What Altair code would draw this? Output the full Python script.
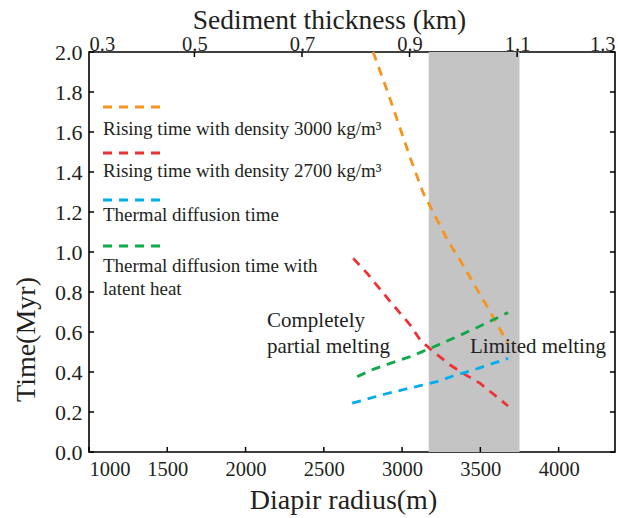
import altair as alt
import pandas as pd

# ---- axis ticks -------------------------------------------------------
radius_ticks = [1000, 1500, 2000, 2500, 3000, 3500, 4000]          # m
time_ticks = [0.0, 0.2, 0.4, 0.6, 0.8, 1.0, 1.2, 1.4, 1.6, 1.8, 2.0]  # Myr
thickness_labels = [0.304, 0.5, 0.7, 0.9, 1.1, 1.282]              # km (top axis)
thickness_marks = [0.5, 0.7, 0.9, 1.1]

radius_domain = [1000, 4360]
thickness_domain = [0.304, 1.282]
time_domain = [0, 2]

# ---- shaded melting window (diapir radius, m) -------------------------
band_start = [3170]
band_end = [3750]

# ---- curves -------------------------------------------------------------
series = [
    "Rising time with density 3000 kg/m³",
    "Rising time with density 2700 kg/m³",
    "Thermal diffusion time",
    "Thermal diffusion time with latent heat",
]
colors = ["#f7941d", "#ec3237", "#00aeef", "#10a84a"]

rise3000_r = [2815, 2910, 3050, 3135, 3290, 3370, 3455, 3545, 3675]
rise3000_t = [2.0, 1.795, 1.475, 1.295, 1.06, 0.96, 0.845, 0.725, 0.545]

rise2700_r = [2688, 2777, 2924, 3052, 3116, 3199, 3307, 3390, 3499, 3677]
rise2700_t = [0.968, 0.893, 0.752, 0.635, 0.56, 0.502, 0.435, 0.393, 0.343, 0.23]

diff_r = [2681, 2892, 3116, 3224, 3326, 3454, 3677]
diff_t = [0.244, 0.29, 0.332, 0.352, 0.38, 0.41, 0.468]

latent_r = [2713, 2815, 2924, 3052, 3179, 3352, 3480, 3677]
latent_t = [0.377, 0.413, 0.443, 0.477, 0.518, 0.577, 0.623, 0.697]

W, H = 526, 400
FONT = "Liberation Serif"
INK = "#231f20"
DASH = [9, 7]
LW = 2.8

rows = []
for name, rs, ts in zip(series,
                        [rise3000_r, rise2700_r, diff_r, latent_r],
                        [rise3000_t, rise2700_t, diff_t, latent_t]):
    for r, t in zip(rs, ts):
        rows.append({"series": name, "radius": r, "time": t})
curves = pd.DataFrame(rows)

x_scale = alt.Scale(domain=radius_domain, nice=False, zero=False)
y_scale = alt.Scale(domain=time_domain, nice=False, zero=False)

x_axis = alt.Axis(
    values=radius_ticks, format="d", title="Diapir radius(m)",
    labelFlush=True, labelFontSize=20.5, labelBaseline="alphabetic",
    labelPadding=23.5, titleFontSize=28, titleX=254, titleY=56,
    titleBaseline="alphabetic", titleAlign="center",
)
y_axis = alt.Axis(
    values=time_ticks, format=".1f", title="Time(Myr)",
    labelFlush=False, labelFontSize=22, labelPadding=7,
    titleFontSize=28, titleX=-55, titleY=287, titleAngle=270,
    titleBaseline="alphabetic", titleAlign="center",
)
top_axis = alt.Axis(
    orient="top", values=thickness_labels, format=".1f",
    title="Sediment thickness (km)", labelFlush=True, labelFontSize=20.5,
    labelBaseline="alphabetic", labelPadding=2, titleFontSize=27.5,
    titleX=240, titleY=-24, titleBaseline="alphabetic", titleAlign="center",
)


def X(field):
    return alt.X(field, type="quantitative", scale=x_scale, axis=x_axis)


def Y(field):
    return alt.Y(field, type="quantitative", scale=y_scale, axis=y_axis)


band = alt.Chart(pd.DataFrame({"start": band_start, "end": band_end})).mark_rect(
    color="#c4c4c4"
).encode(x=X("start"), x2="end", y=alt.value(0), y2=alt.value(H))

lines = alt.Chart(curves).mark_line(
    strokeDash=DASH, strokeWidth=LW, strokeCap="butt"
).encode(
    x=X("radius"),
    y=Y("time"),
    color=alt.Color("series:N", scale=alt.Scale(domain=series, range=colors), legend=None),
    detail="series:N",
)

# inward tick marks on the frame
ytick_df = pd.DataFrame({"v": time_ticks})
xtick_df = pd.DataFrame({"v": radius_ticks})
tick_style = dict(color="black", strokeWidth=1.5)
left_ticks = alt.Chart(ytick_df).mark_rule(**tick_style).encode(
    y=Y("v"), x=alt.value(0), x2=alt.value(5))
right_ticks = alt.Chart(ytick_df).mark_rule(**tick_style).encode(
    y=Y("v"), x=alt.value(W - 5), x2=alt.value(W))
bottom_ticks = alt.Chart(xtick_df).mark_rule(**tick_style).encode(
    x=X("v"), y=alt.value(H - 5), y2=alt.value(H))

one = pd.DataFrame({"a": [0]})


def label(text, x, y, size):
    return alt.Chart(one).mark_text(
        text=text, align="left", baseline="alphabetic", font=FONT,
        fontSize=size, color=INK,
    ).encode(x=alt.value(x), y=alt.value(y))


def key_line(color, y):
    return alt.Chart(one).mark_rule(
        color=color, strokeDash=DASH, strokeWidth=LW, strokeCap="butt"
    ).encode(x=alt.value(14), x2=alt.value(76), y=alt.value(y))


key = [
    key_line(colors[0], 55), label(series[0], 14, 83, 19),
    key_line(colors[1], 101), label(series[1], 14, 125, 19),
    key_line(colors[2], 148), label(series[2], 14, 169, 19),
    key_line(colors[3], 194),
    label("Thermal diffusion time with", 14, 220, 19),
    label("latent heat", 14, 243, 19),
]

notes = [
    label("Completely", 178, 275, 21),
    label("partial melting", 178, 300.5, 21),
    label("Limited melting", 381, 300.5, 21),
]

main = alt.layer(band, lines, left_ticks, right_ticks, bottom_ticks, *key, *notes)

top = alt.Chart(pd.DataFrame({"v": thickness_marks})).mark_rule(**tick_style).encode(
    x=alt.X("v:Q", scale=alt.Scale(domain=thickness_domain, nice=False, zero=False),
            axis=top_axis),
    y=alt.value(0), y2=alt.value(5),
)

chart = (
    alt.layer(main, top)
    .resolve_scale(x="independent")
    .properties(
        width=W, height=H,
        padding={"left": 89, "top": 52, "right": 3, "bottom": 66},
        autosize=alt.AutoSizeParams(type="none"),
        background="white",
    )
    .configure_view(stroke="black", strokeWidth=1.6)
    .configure_axis(
        labelFont=FONT, titleFont=FONT, labelColor=INK, titleColor=INK,
        titleFontWeight="normal", ticks=False, tickSize=0, domain=False,
        grid=False,
    )
)

chart.save("out.html", embed_options={"renderer": "svg", "actions": False})
